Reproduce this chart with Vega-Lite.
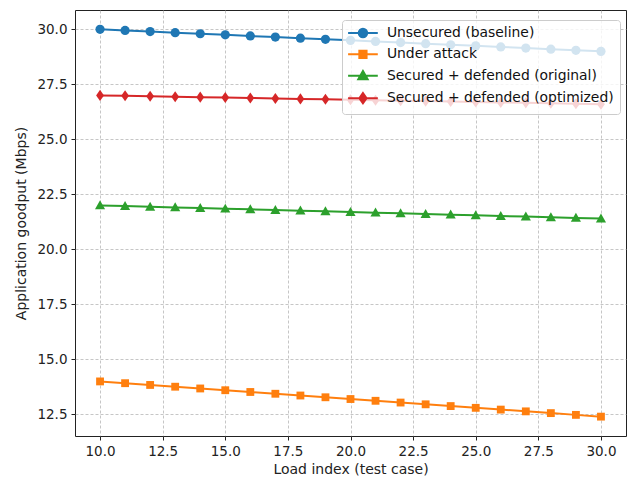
{
  "$schema": "https://vega.github.io/schema/vega-lite/v6.json",
  "width": 551,
  "height": 426,
  "autosize": {"type": "none"},
  "padding": {"left": 75, "top": 10, "right": 1, "bottom": 42},
  "background": "white",
  "config": {
    "font": "DejaVu Sans",
    "view": {"stroke": "#222", "strokeWidth": 1},
    "axis": {
      "labelFont": "DejaVu Sans", "titleFont": "DejaVu Sans",
      "labelFontSize": 13.5, "titleFontSize": 14, "titleFontWeight": "normal",
      "labelColor": "#222", "titleColor": "#222",
      "domain": false, "tickColor": "#222", "tickSize": 4,
      "gridColor": "#b0b0b0", "gridDash": [3, 2], "gridWidth": 0.8, "gridOpacity": 0.9
    },
    "legend": {
      "labelFont": "DejaVu Sans", "labelFontSize": 13.9, "labelColor": "#111", "labelLimit": 400,
      "fillColor": "rgba(255,255,255,0.8)", "strokeColor": "#cccccc", "cornerRadius": 3,
      "padding": 6, "rowPadding": 4.4, "symbolSize": 72, "symbolStrokeWidth": 2,
      "labelOffset": 17, "symbolOffset": 8
    }
  },
  "data": {"values": [
    {"load": 10, "Unsecured (baseline)": 30.00, "Under attack": 14.00, "Secured + defended (original)": 22.00, "Secured + defended (optimized)": 27.00},
    {"load": 11, "Unsecured (baseline)": 29.95, "Under attack": 13.92, "Secured + defended (original)": 21.97, "Secured + defended (optimized)": 26.98},
    {"load": 12, "Unsecured (baseline)": 29.90, "Under attack": 13.84, "Secured + defended (original)": 21.94, "Secured + defended (optimized)": 26.96},
    {"load": 13, "Unsecured (baseline)": 29.85, "Under attack": 13.76, "Secured + defended (original)": 21.91, "Secured + defended (optimized)": 26.94},
    {"load": 14, "Unsecured (baseline)": 29.80, "Under attack": 13.68, "Secured + defended (original)": 21.88, "Secured + defended (optimized)": 26.92},
    {"load": 15, "Unsecured (baseline)": 29.75, "Under attack": 13.60, "Secured + defended (original)": 21.85, "Secured + defended (optimized)": 26.90},
    {"load": 16, "Unsecured (baseline)": 29.70, "Under attack": 13.52, "Secured + defended (original)": 21.82, "Secured + defended (optimized)": 26.88},
    {"load": 17, "Unsecured (baseline)": 29.65, "Under attack": 13.44, "Secured + defended (original)": 21.79, "Secured + defended (optimized)": 26.86},
    {"load": 18, "Unsecured (baseline)": 29.60, "Under attack": 13.36, "Secured + defended (original)": 21.76, "Secured + defended (optimized)": 26.84},
    {"load": 19, "Unsecured (baseline)": 29.55, "Under attack": 13.28, "Secured + defended (original)": 21.73, "Secured + defended (optimized)": 26.82},
    {"load": 20, "Unsecured (baseline)": 29.50, "Under attack": 13.20, "Secured + defended (original)": 21.70, "Secured + defended (optimized)": 26.80},
    {"load": 21, "Unsecured (baseline)": 29.45, "Under attack": 13.12, "Secured + defended (original)": 21.67, "Secured + defended (optimized)": 26.78},
    {"load": 22, "Unsecured (baseline)": 29.40, "Under attack": 13.04, "Secured + defended (original)": 21.64, "Secured + defended (optimized)": 26.76},
    {"load": 23, "Unsecured (baseline)": 29.35, "Under attack": 12.96, "Secured + defended (original)": 21.61, "Secured + defended (optimized)": 26.74},
    {"load": 24, "Unsecured (baseline)": 29.30, "Under attack": 12.88, "Secured + defended (original)": 21.58, "Secured + defended (optimized)": 26.72},
    {"load": 25, "Unsecured (baseline)": 29.25, "Under attack": 12.80, "Secured + defended (original)": 21.55, "Secured + defended (optimized)": 26.70},
    {"load": 26, "Unsecured (baseline)": 29.20, "Under attack": 12.72, "Secured + defended (original)": 21.52, "Secured + defended (optimized)": 26.68},
    {"load": 27, "Unsecured (baseline)": 29.15, "Under attack": 12.64, "Secured + defended (original)": 21.49, "Secured + defended (optimized)": 26.66},
    {"load": 28, "Unsecured (baseline)": 29.10, "Under attack": 12.56, "Secured + defended (original)": 21.46, "Secured + defended (optimized)": 26.64},
    {"load": 29, "Unsecured (baseline)": 29.05, "Under attack": 12.48, "Secured + defended (original)": 21.43, "Secured + defended (optimized)": 26.62},
    {"load": 30, "Unsecured (baseline)": 29.00, "Under attack": 12.40, "Secured + defended (original)": 21.40, "Secured + defended (optimized)": 26.60}
  ]},
  "transform": [
    {"fold": ["Unsecured (baseline)", "Under attack", "Secured + defended (original)", "Secured + defended (optimized)"], "as": ["series", "goodput"]}
  ],
  "encoding": {
    "x": {
      "field": "load", "type": "quantitative",
      "scale": {"domain": [9, 31], "nice": false, "zero": false},
      "axis": {"values": [10, 12.5, 15, 17.5, 20, 22.5, 25, 27.5, 30], "format": ".1f", "title": "Load index (test case)", "titlePadding": 5, "labelPadding": 4}
    },
    "y": {
      "field": "goodput", "type": "quantitative",
      "scale": {"domain": [11.52, 30.88], "nice": false, "zero": false},
      "axis": {"values": [12.5, 15, 17.5, 20, 22.5, 25, 27.5, 30], "format": ".1f", "title": "Application goodput (Mbps)", "titlePadding": 8, "labelPadding": 4}
    }
  },
  "layer": [
    {
      "transform": [{"filter": {"field": "series", "equal": "Unsecured (baseline)"}}],
      "mark": {"type": "line", "strokeWidth": 2, "color": "#1f77b4",
        "point": {"filled": true, "opacity": 1, "size": 85, "shape": "circle", "color": "#1f77b4"}}
    },
    {
      "transform": [{"filter": {"field": "series", "equal": "Under attack"}}],
      "mark": {"type": "line", "strokeWidth": 2, "color": "#ff7f0e",
        "point": {"filled": true, "opacity": 1, "size": 85, "shape": "M-0.85,-0.85H0.85V0.85H-0.85Z", "color": "#ff7f0e"}}
    },
    {
      "transform": [{"filter": {"field": "series", "equal": "Secured + defended (original)"}}],
      "mark": {"type": "line", "strokeWidth": 2, "color": "#2ca02c",
        "point": {"filled": true, "opacity": 1, "size": 85, "shape": "M0,-1.1L1.1,0.85H-1.1Z", "color": "#2ca02c"}}
    },
    {
      "transform": [{"filter": {"field": "series", "equal": "Secured + defended (optimized)"}}],
      "mark": {"type": "line", "strokeWidth": 2, "color": "#d62728",
        "point": {"filled": true, "opacity": 1, "size": 85, "shape": "M0,-1.2L0.85,0L0,1.2L-0.85,0Z", "color": "#d62728"}}
    },
    {
      "transform": [{"filter": "datum.load > 1000"}],
      "mark": {"type": "point", "filled": true, "opacity": 1, "strokeWidth": 2},
      "encoding": {
        "fill": {
          "field": "series", "type": "nominal",
          "scale": {
            "domain": ["Unsecured (baseline)", "Under attack", "Secured + defended (original)", "Secured + defended (optimized)"],
            "range": ["#1f77b4", "#ff7f0e", "#2ca02c", "#d62728"]
          },
          "legend": {"title": null, "orient": "none", "legendX": 267, "legendY": 10}
        },
        "stroke": {
          "field": "series", "type": "nominal",
          "scale": {
            "domain": ["Unsecured (baseline)", "Under attack", "Secured + defended (original)", "Secured + defended (optimized)"],
            "range": ["#1f77b4", "#ff7f0e", "#2ca02c", "#d62728"]
          },
          "legend": {"title": null, "orient": "none", "legendX": 267, "legendY": 10}
        },
        "shape": {
          "field": "series", "type": "nominal",
          "scale": {
            "domain": ["Unsecured (baseline)", "Under attack", "Secured + defended (original)", "Secured + defended (optimized)"],
            "range": [
              "M-3.5,0L3.5,0M1,0A1,1,0,1,1,-1,0A1,1,0,1,1,1,0Z",
              "M-3.5,0L3.5,0M-0.85,-0.85L0.85,-0.85L0.85,0.85L-0.85,0.85Z",
              "M-3.5,0L3.5,0M0,-1.1L1.1,0.85L-1.1,0.85Z",
              "M-3.5,0L3.5,0M0,-1.2L0.85,0L0,1.2L-0.85,0Z"
            ]
          },
          "legend": {"title": null, "orient": "none", "legendX": 267, "legendY": 10}
        }
      }
    }
  ]
}
